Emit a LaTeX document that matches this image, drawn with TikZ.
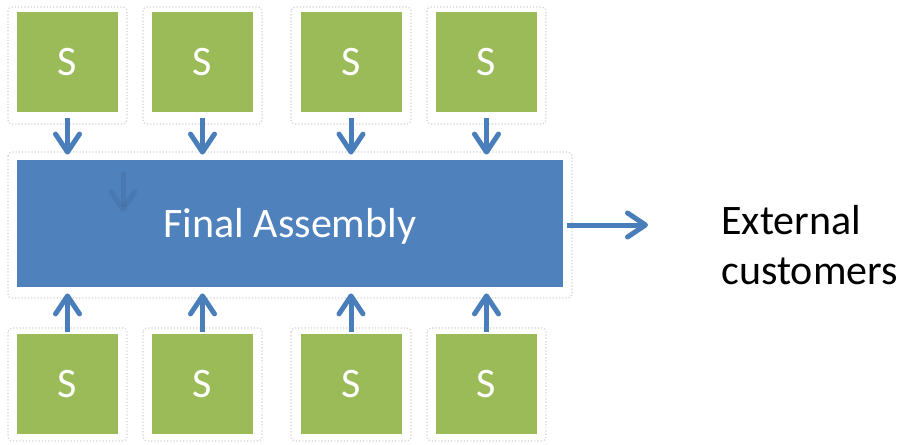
\documentclass[tikz,border=0pt]{standalone}
\usepackage{fontspec}
\setmainfont{Carlito}
\usetikzlibrary{arrows.meta}
\definecolor{supgreen}{HTML}{9BBB59}
\definecolor{asmblue}{HTML}{4F81BD}
\definecolor{flowblue}{HTML}{4A7EBB}
\begin{document}
\begin{tikzpicture}[x=0.5pt,y=-0.5pt,
  supplier/.style={fill=supgreen, draw=none, minimum width=50.5pt, minimum height=50pt,
    inner sep=0pt, text=white, font=\fontsize{21}{25}\selectfont},
  assembly/.style={fill=asmblue, draw=none, minimum width=273pt, minimum height=63.5pt,
    inner sep=0pt, text=white, font=\fontsize{21}{25}\selectfont},
  frame/.style={draw=gray!35, densely dotted, line width=0.6pt, rounded corners=2pt},
  flow/.style={draw=flowblue, line width=2.5pt,
    -{Straight Barb[length=9pt,width=12pt,line cap=round,line join=round]}}]
  \useasboundingbox (0,0) rectangle (904,444);
  \fill[white] (0,0) rectangle (904,444);

  % faint shadow outlines around the shapes
  \foreach \xa/\xb in {8/127,143/262,291/411,427/546}{
    \draw[frame] (\xa,7) rectangle (\xb,124);
    \draw[frame] (\xa,328) rectangle (\xb,441);
  }
  \draw[frame] (8,152) rectangle (572,298);

  % supplier boxes
  \node[supplier] (t1) at (67.5,62.5) {S};
  \node[supplier] (t2) at (202.5,62.5) {S};
  \node[supplier] (t3) at (351,62.5) {S};
  \node[supplier] (t4) at (486.5,62.5) {S};
  \node[supplier] (b1) at (67.5,384) {S};
  \node[supplier] (b2) at (202.5,384) {S};
  \node[supplier] (b3) at (351,384) {S};
  \node[supplier] (b4) at (486.5,384) {S};

  % final assembly (baseline set a little below the centre)
  \node[assembly] (fa) at (290,223.5) {\smash{\raisebox{-6.75pt}{Final Assembly}}};

  % faint ghost arrow inside the assembly box
  \coordinate (g1) at (123,172);
  \coordinate (g2) at (123,212);
  \draw[flow, draw=black, opacity=0.06] (g1) -- (g2);

  % supply flows into final assembly
  \foreach \n in {1,2,3,4}{
    \draw[flow, shorten <=2.5pt, shorten >=2.5pt] (t\n.south) -- (t\n.south |- fa.north);
    \draw[flow, shorten <=1pt, shorten >=3pt] (b\n.north) -- (b\n.north |- fa.south);
  }

  % output to customers
  \node[anchor=west, align=left, inner sep=0pt, font=\fontsize{21}{25}\selectfont] (ext)
    at (721,245) {External\\customers};
  \coordinate (out) at (648,225);
  \draw[flow, shorten <=2pt] (fa.east |- out) -- (out);
\end{tikzpicture}
\end{document}
